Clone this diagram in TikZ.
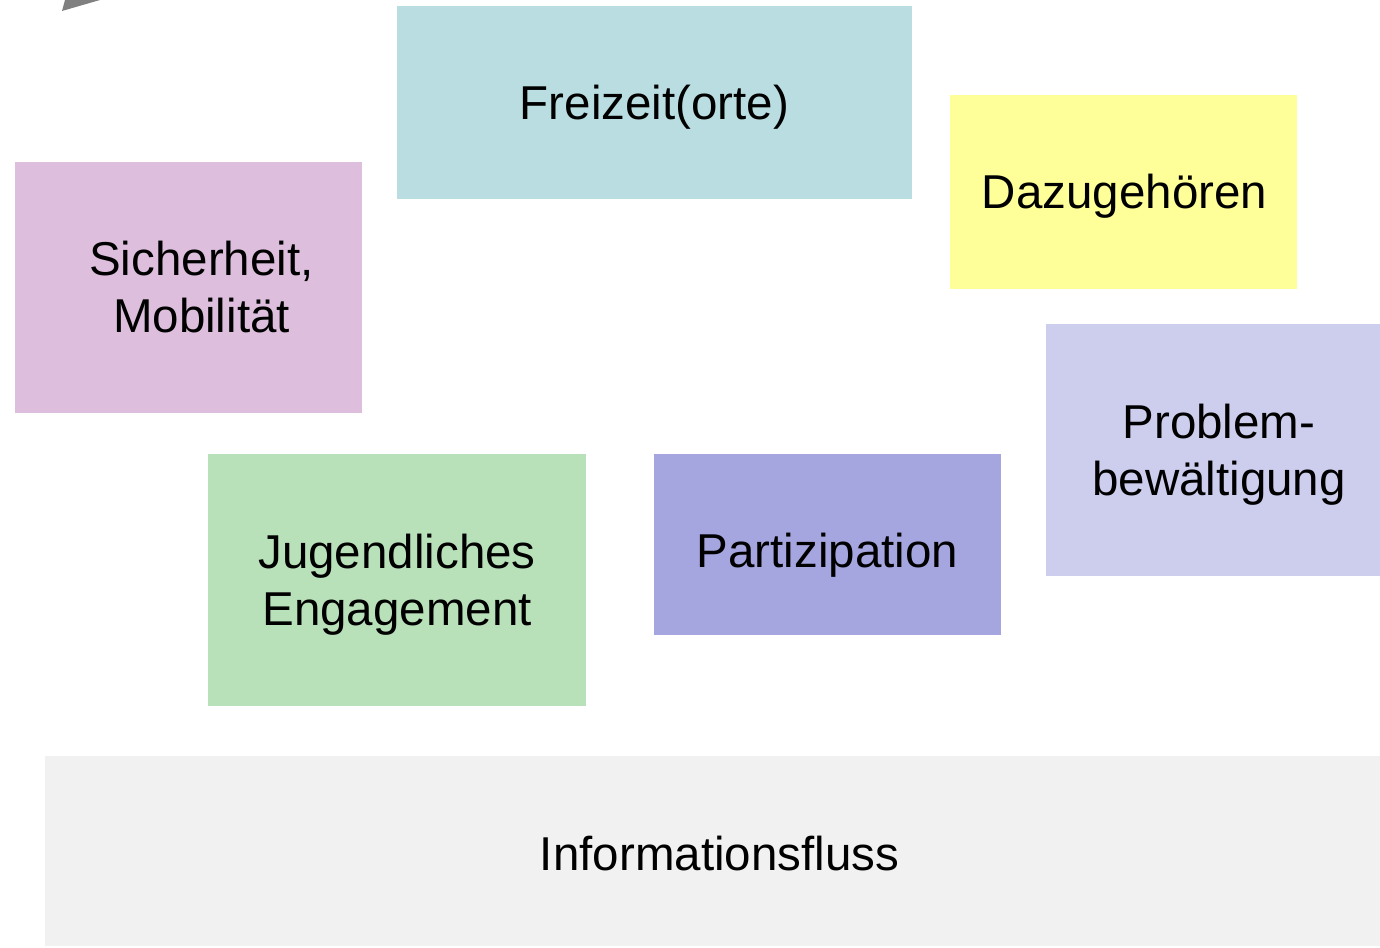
\documentclass[tikz,border=0pt]{standalone}
\usepackage{fontspec}
\setmainfont{Liberation Sans}
\usepackage{xcolor}
\usepackage{tikz}

\definecolor{freizeitcol}{HTML}{B9DDE1}
\definecolor{dazucol}{HTML}{FFFF99}
\definecolor{sichercol}{HTML}{DDBFDD}
\definecolor{problemcol}{HTML}{CDCEEE}
\definecolor{jugendcol}{HTML}{B9E1B9}
\definecolor{partcol}{HTML}{A5A5E0}
\definecolor{infocol}{HTML}{F1F1F1}

\begin{document}
\begin{tikzpicture}[x=0.5pt,y=-0.5pt,
        card/.style={inner sep=0pt},
        cardtext/.style={inner sep=0pt, align=center,
            font=\fontsize{23.75}{28.5}\selectfont}]
        \useasboundingbox (0,0) rectangle (1380,947);
        %\fill[red] (0,0) circle (2);
        \fill[gray] (62,11) -- (65,0) -- (100,0) -- cycle;
        \node[card, fill=freizeitcol, minimum width=257.5pt, minimum height=96.5pt] (freizeit) at (654.5,102.5) {};
        \node[card, fill=dazucol, minimum width=173.5pt, minimum height=97pt] (dazu) at (1123.5,192) {};
        \node[card, fill=sichercol, minimum width=173.5pt, minimum height=125.5pt] (sicher) at (188.5,287.5) {};
        \node[card, fill=problemcol, minimum width=167pt, minimum height=126pt] (problem) at (1213,450) {};
        \node[card, fill=jugendcol, minimum width=189pt, minimum height=126pt] (jugend) at (397,580) {};
        \node[card, fill=partcol, minimum width=173.5pt, minimum height=90.5pt] (part) at (827.5,544.5) {};
        \node[card, fill=infocol, minimum width=667.5pt, minimum height=95pt] (info) at (712.5,851) {};
        % texts
        \node[cardtext, yshift=-2.5pt] (freizeit-txt) at (freizeit) {Freizeit(orte)};
        \node[cardtext, xshift=0.5pt, yshift=-2pt] (dazu-txt) at (dazu) {Dazugehören};
        \node[cardtext, xshift=6.5pt] (sicher-txt) at (sicher) {Sicherheit,\\Mobilität};
        \node[cardtext, xshift=3pt, yshift=-2.5pt] (problem-txt) at (problem) {Problem-\\bewältigung};
        \node[cardtext, yshift=-2.5pt] (jugend-txt) at (jugend) {Jugendliches\\Engagement};
        \node[cardtext, yshift=-5.5pt] (part-txt) at (part) {Partizipation};
        \node[cardtext, xshift=3.5pt, yshift=-1.5pt] (info-txt) at (info) {Informationsfluss};
    \end{tikzpicture}
\end{document}
